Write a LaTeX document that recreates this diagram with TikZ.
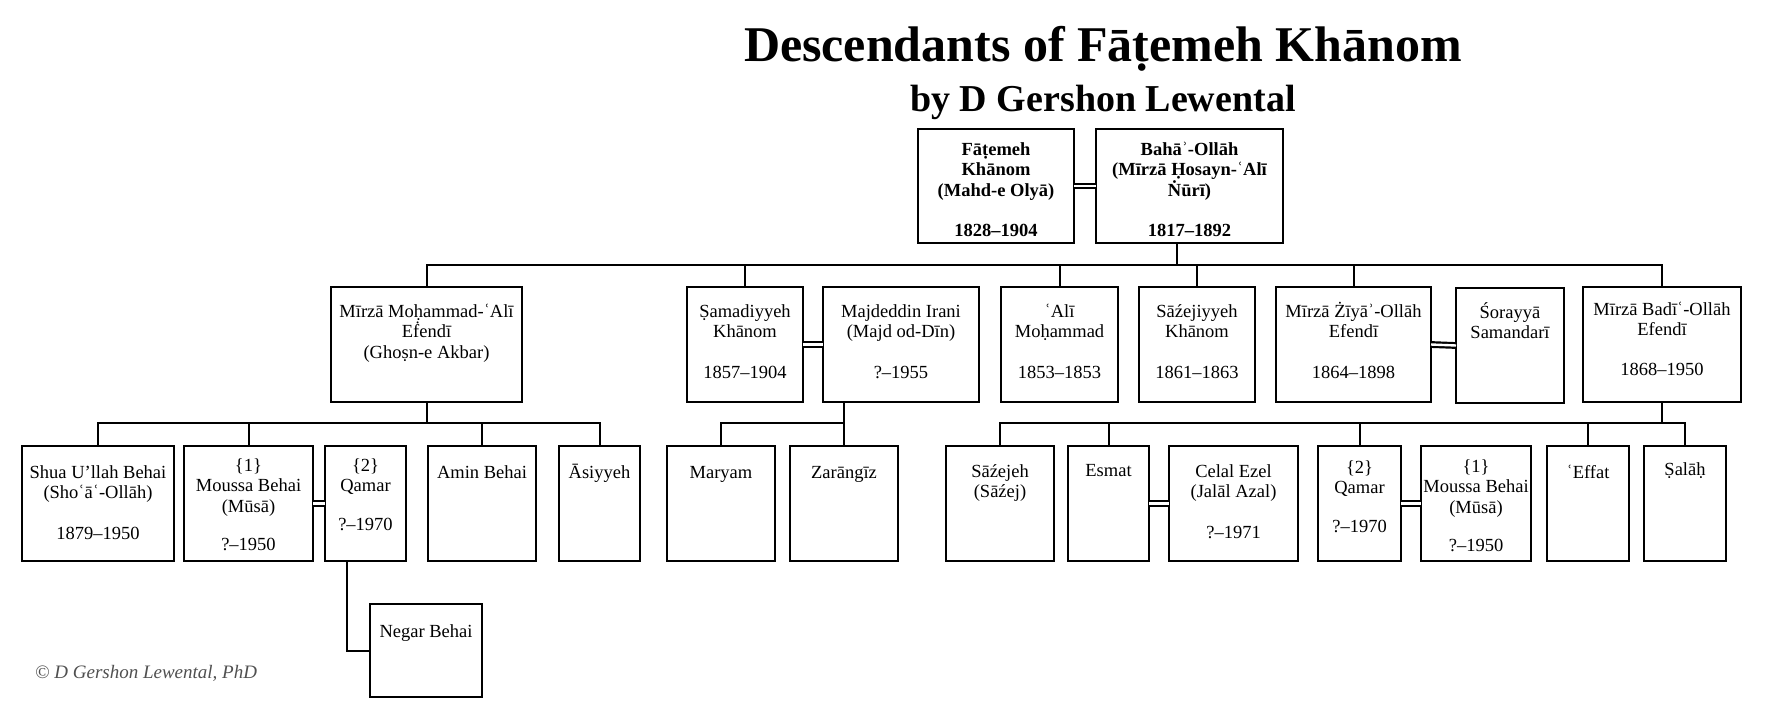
\documentclass[tikz,border=0pt]{standalone}
\usepackage{fontspec}
\setmainfont{Liberation Serif}
\definecolor{copygray}{HTML}{505050}
\setlength\lineskiplimit{-20pt}
\tikzset{
  fambox/.style={draw, line width=2pt, inner sep=0pt, outer sep=0pt, anchor=north west,
    font=\fontsize{18.5}{20.5}\selectfont},
  conn/.style={line width=2pt},
  marr/.style={double, double distance=2.4pt, line width=2.2pt}
}
% #1 name, #2 x, #3 y, #4 width, #5 height, #6 top gap, #7 text
\newcommand\FamBox[7]{%
  \node[fambox] (#1) at (#2,#3) {\begin{minipage}[t][#5pt][t]{#4pt}\centering\vspace*{#6pt}\rule{0pt}{18pt}#7\end{minipage}};}
\begin{document}
\begin{tikzpicture}[x=1pt,y=-1pt]
\fill[white] (0,0) rectangle (1787,721);
\useasboundingbox (0,0) rectangle (1787,721);

% titles
\node[font=\fontsize{50}{60}\selectfont\bfseries, anchor=base, inner sep=0pt] (title) at (1103,61) {Descendants of Fāṭemeh Khānom};
\node[font=\fontsize{38}{46}\selectfont\bfseries, anchor=base, inner sep=0pt] (subtitle) at (1103,111) {by D Gershon Lewental};

% generation 1
\FamBox{fat}{918}{129}{156}{114}{8}{\bfseries Fāṭemeh\\Khānom\\(Mahd-e Olyā)\\[20pt]1828–1904}
\FamBox{bahaa}{1096}{129}{187}{114}{8}{\bfseries Bahāʾ-Ollāh\\(Mīrzā Ḥosayn-ʿAlī\\Ṅūrī)\\[20pt]1817–1892}

% generation 2
\FamBox{moh}{331}{287}{191}{115}{12}{Mīrzā Moḥammad-ʿAlī\\Eḟendī\\(Ghoṣn-e Akbar)}
\FamBox{sam}{687}{287}{116}{115}{12}{Ṣamadiyyeh\\Khānom\\[20pt]1857–1904}
\FamBox{majd}{823}{287}{156}{115}{12}{Majdeddin Irani\\(Majd od-Dīn)\\[20pt]?–1955}
\FamBox{ali}{1001}{287}{117}{115}{12}{ʿAlī\\Moḥammad\\[20pt]1853–1853}
\FamBox{sazj}{1139}{287}{116}{115}{12}{Sāźejiyyeh\\Khānom\\[20pt]1861–1863}
\FamBox{ziya}{1276}{287}{155}{115}{12}{Mīrzā Żīyāʾ-Ollāh\\Efendī\\[20pt]1864–1898}
\FamBox{sor}{1456}{288}{108}{115}{12}{Śorayyā\\Samandarī}
\FamBox{badi}{1583}{287}{158}{115}{10}{Mīrzā Badīʿ-Ollāh\\Efendī\\[19pt]1868–1950}

% generation 3
\FamBox{shua}{22}{446}{152}{115}{14}{Shua U’llah Behai\\(Shoʿāʿ-Ollāh)\\[20pt]1879–1950}
\FamBox{mousa}{184}{446}{129}{115}{7}{\{1\}\\Moussa Behai\\(Mūsā)\\[18pt]?–1950}
\FamBox{qama}{325}{446}{81}{115}{7}{\{2\}\\Qamar\\[18pt]?–1970}
\FamBox{amin}{428}{446}{108}{115}{14}{Amin Behai}
\FamBox{asi}{559}{446}{81}{115}{14}{Āsiyyeh}
\FamBox{mar}{667}{446}{108}{115}{14}{Maryam}
\FamBox{zar}{790}{446}{108}{115}{14}{Zarāngīz}
\FamBox{saz}{946}{446}{108}{115}{13}{Sāźejeh\\(Sāźej)}
\FamBox{esm}{1068}{446}{81}{115}{12}{Esmat}
\FamBox{cel}{1169}{446}{129}{115}{13}{Celal Ezel\\(Jalāl Azal)\\[20pt]?–1971}
\FamBox{qamb}{1318}{446}{83}{115}{9}{\{2\}\\Qamar\\[18pt]?–1970}
\FamBox{mousb}{1421}{446}{110}{115}{8}{\{1\}\\Moussa Behai\\(Mūsā)\\[18pt]?–1950}
\FamBox{eff}{1547}{446}{82}{115}{14}{ʿEffat}
\FamBox{sal}{1644}{446}{82}{115}{11}{Ṣalāḥ}

% generation 4
\FamBox{negar}{370}{604}{112}{93}{15}{Negar Behai}

% marriages
\draw[marr] (fat.east) -- (bahaa.west);
\draw[marr] (sam.east) -- (majd.west);
\draw[marr] (ziya.east) -- (sor.west);
\draw[marr] (mousa.east) -- (qama.west);
\draw[marr] (esm.east) -- (cel.west);
\draw[marr] (qamb.east) -- (mousb.west);

% descent lines
\coordinate (busA) at (1177,265);
\coordinate (busB) at (0,423);
\coordinate (qx) at (347,0);
\draw[conn] (busA |- bahaa.south) -- (busA);
\draw[conn] (moh.north) -- (moh.north |- busA) -- (badi.north |- busA) -- (badi.north);
\foreach \n in {sam,ali,sazj,ziya} \draw[conn] (\n.north) -- (\n.north |- busA);

\draw[conn] (moh.south) -- (moh.south |- busB);
\draw[conn] (shua.north) -- (shua.north |- busB) -- (asi.north |- busB) -- (asi.north);
\foreach \n in {mousa,amin} \draw[conn] (\n.north) -- (\n.north |- busB);

\draw[conn] (majd.south -| zar.north) -- (zar.north);
\draw[conn] (mar.north) -- (mar.north |- busB) -- (zar.north |- busB);

\draw[conn] (badi.south) -- (badi.south |- busB);
\draw[conn] (saz.north) -- (saz.north |- busB) -- (sal.north |- busB) -- (sal.north);
\foreach \n in {esm,qamb,eff} \draw[conn] (\n.north) -- (\n.north |- busB);

\draw[conn] (qama.south -| qx) |- (negar.west);

% copyright
\node[font=\fontsize{19}{22}\selectfont\itshape, text=copygray, anchor=base west, inner sep=0pt] (copy) at (35,678) {© D Gershon Lewental, PhD};
\end{tikzpicture}
\end{document}
